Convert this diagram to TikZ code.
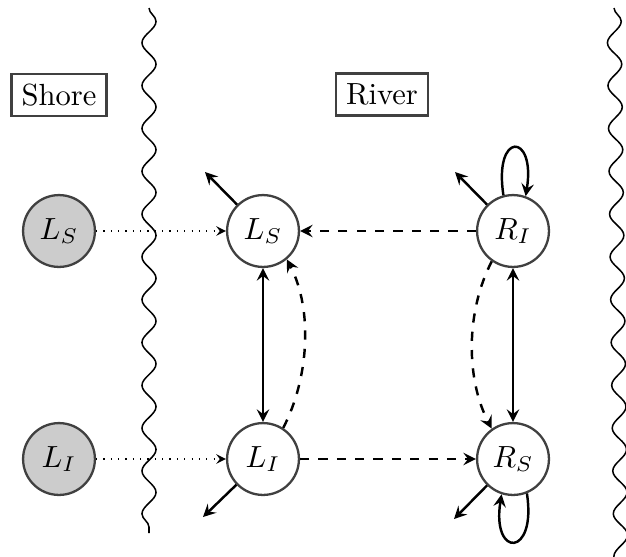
\documentclass[tikz,border=0pt]{standalone}
\usetikzlibrary{decorations.pathmorphing,arrows}
\begin{document}
\begin{tikzpicture}[x=0.327pt,y=-0.327pt,>=stealth,
  st/.style={circle,draw=black!75,line width=0.75pt,minimum size=23.5pt,inner sep=0pt},
  shorest/.style={st,fill=black!20},
  lbl/.style={draw=black!75,line width=0.75pt},
  wave/.style={decorate,decoration={snake,segment length=14pt,amplitude=2.3pt},line width=0.5pt},
  tr/.style={->,thick},
  dtr/.style={->,thick,dashed},
  dtt/.style={->,dotted}]
\useasboundingbox (0,0) rectangle (626,556);

% labels
\node[lbl] (shore) at (59,95) {Shore};
\node[lbl] (river) at (382,94.5) {River};

% wavy borders
\coordinate (w1a) at (149,8);
\coordinate (w1b) at (149,533);
\coordinate (w2a) at (614,8);
\coordinate (w2b) at (621,570);
\draw[wave] (w1a) -- (w1b);
\draw[wave] (w2a) -- (w2b);

% nodes
\node[shorest] (sLS) at (59,231) {$L_S$};
\node[shorest] (sLI) at (59,459) {$L_I$};
\node[st] (LS) at (263,231) {$L_S$};
\node[st] (LI) at (263,459) {$L_I$};
\node[st] (RI) at (513,231) {$R_I$};
\node[st] (RS) at (513,459) {$R_S$};

% free ends
\coordinate (oLS) at (205,172);
\coordinate (oLI) at (203,517);
\coordinate (oRI) at (455,172);
\coordinate (oRS) at (454,519);

% dotted shore arrows
\draw[dtt] (sLS) -- (LS);
\draw[dtt] (sLI) -- (LI);

% dashed horizontals
\draw[dtr] (RI) -- (LS);
\draw[dtr] (LI) -- (RS);

% vertical two-way
\draw[<->,thick] (LS) -- (LI);
\draw[<->,thick] (RI) -- (RS);

% dashed curves
\draw[dtr] (LI.57) .. controls +(26,-50) and +(26,50) .. (LS.-50);
\draw[dtr] (RI.-125) .. controls +(-26,50) and +(-26,-50) .. (RS.125);

% outgoing
\draw[tr] (LS) -- (oLS);
\draw[tr] (LI) -- (oLI);
\draw[tr] (RI) -- (oRI);
\draw[tr] (RS) -- (oRS);

% self loops
\draw[tr] (RI.105) .. controls +(-10,-64) and +(10,-64) .. (RI.70);
\draw[tr] (RS.-68) .. controls +(10,64) and +(-10,64) .. (RS.-108);
\end{tikzpicture}
\end{document}
